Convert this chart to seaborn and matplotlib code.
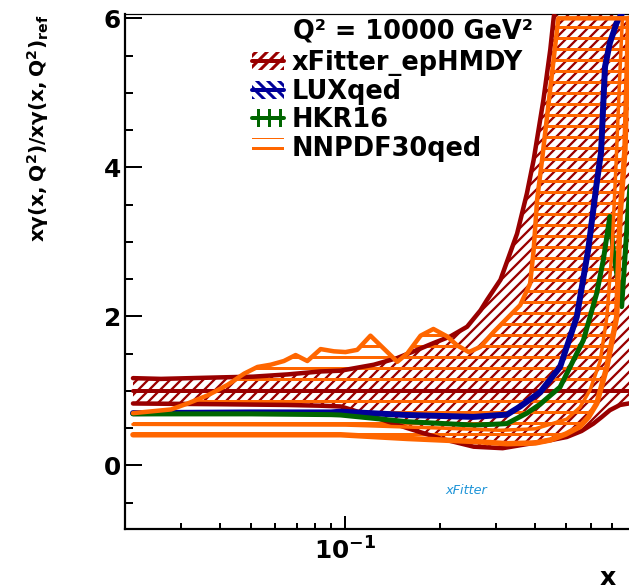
import numpy as np
import pandas as pd
import matplotlib
matplotlib.use("Agg")
import matplotlib.pyplot as plt
import seaborn as sns
from matplotlib.patches import Patch
from matplotlib.lines import Line2D
from matplotlib.legend_handler import HandlerTuple
from matplotlib.ticker import MultipleLocator, LogLocator, NullFormatter, FixedLocator, FixedFormatter

# ---------------- data (ratio to xFitter_epHMDY reference) ----------------
xf_up_x = [0.0212, 0.026, 0.040, 0.051, 0.0655, 0.0834, 0.0965, 0.123, 0.146, 0.169, 0.190,
           0.215, 0.243, 0.268, 0.281, 0.310, 0.350, 0.376, 0.395, 0.424, 0.446, 0.457, 0.48, 1.0]
xf_up_y = [1.17, 1.16, 1.18, 1.19, 1.22, 1.26, 1.27, 1.35, 1.44, 1.55, 1.64,
           1.73, 1.86, 2.08, 2.22, 2.49, 3.11, 3.65, 4.10, 4.90, 5.58, 6.00, 6.60, 9.0]
xf_lo_x = [0.0212, 0.040, 0.0655, 0.0834, 0.0965, 0.1038, 0.123, 0.157, 0.200, 0.255, 0.315,
           0.395, 0.450, 0.503, 0.560, 0.611, 0.650, 0.689, 0.742, 0.791, 0.85, 1.0]
xf_lo_y = [0.83, 0.82, 0.81, 0.80, 0.79, 0.75, 0.65, 0.50, 0.36, 0.25, 0.23,
           0.30, 0.34, 0.38, 0.46, 0.56, 0.65, 0.74, 0.81, 0.83, 0.85, 0.87]
xf_c_x = [0.0212, 1.0]
xf_c_y = [1.0, 1.0]

nn_up_x = [0.0212, 0.028, 0.0316, 0.0366, 0.0423, 0.0477, 0.0526, 0.0579, 0.0638, 0.0695, 0.0757,
           0.0834, 0.0919, 0.1, 0.109, 0.120, 0.146, 0.157, 0.173, 0.190, 0.210, 0.226, 0.246,
           0.268, 0.295, 0.325, 0.358, 0.385, 0.395, 0.405, 0.42, 0.473, 1.0]
nn_up_y = [0.70, 0.75, 0.83, 0.94, 1.08, 1.23, 1.32, 1.35, 1.40, 1.48, 1.40,
           1.56, 1.53, 1.52, 1.55, 1.74, 1.39, 1.50, 1.74, 1.83, 1.73, 1.61, 1.52,
           1.59, 1.79, 1.97, 2.15, 2.44, 2.89, 3.56, 4.10, 6.00, 6.00]
nn_lo_x = [0.0212, 0.05, 0.0965, 0.157, 0.255, 0.325, 0.40, 0.446, 0.50, 0.554, 0.59,
           0.626, 0.674, 0.724, 0.742, 0.769, 0.79, 1.0]
nn_lo_y = [0.41, 0.41, 0.41, 0.36, 0.32, 0.29, 0.30, 0.34, 0.42, 0.52, 0.65,
           0.83, 1.32, 1.99, 3.34, 4.23, 6.00, 6.00]
nn_c_x = [0.0212, 0.1, 0.2, 0.31, 0.40, 0.503, 0.554, 0.596, 0.642, 0.674, 0.70, 0.72, 0.74, 0.755]
nn_c_y = [0.55, 0.54, 0.50, 0.47, 0.49, 0.62, 0.78, 1.01, 1.40, 1.99, 2.90, 4.00, 5.20, 6.00]

lux_x = [0.0212, 0.05, 0.09, 0.0965, 0.157, 0.255, 0.31, 0.325, 0.358, 0.395, 0.414, 0.479,
         0.541, 0.588, 0.626, 0.646, 0.665, 0.689, 0.724, 0.76]
lux_y = [0.70, 0.71, 0.71, 0.72, 0.675, 0.65, 0.675, 0.68, 0.79, 0.92, 0.98, 1.32,
         1.99, 2.89, 3.79, 4.20, 5.35, 5.67, 5.94, 6.10]

hkr_x = [0.0212, 0.05, 0.09, 0.0965, 0.157, 0.255, 0.31, 0.325, 0.376, 0.414, 0.479, 0.568,
         0.626, 0.657, 0.689, 0.706, 0.751, 0.787, 0.80]
hkr_y = [0.69, 0.69, 0.68, 0.675, 0.585, 0.54, 0.555, 0.56, 0.70, 0.82, 1.05, 1.68,
         2.31, 2.76, 3.34, 2.89, 2.13, 3.43, 3.80]

labels = ["xFitter_epHMDY", "LUXqed", "HKR16", "NNPDF30qed"]
y_ticks = [0, 2, 4, 6]
y_ticklabels = ["0", "2", "4", "6"]
x_ticks = [0.1]
x_ticklabels = [r"$\mathbf{10^{-1}}$"]

# ---------------- styling ----------------
DR, BL, GR, OR = "#990000", "#000099", "#006600", "#ff6600"
DPI = 66
W, H = 629, 585
def pt(px):
    return px * 72.0 / DPI

sns.set_style("white")
plt.rcParams["font.family"] = ["DejaVu Sans"]
plt.rcParams["font.weight"] = "bold"
plt.rcParams["mathtext.fontset"] = "dejavusans"
plt.rcParams["hatch.linewidth"] = pt(3)
for k in ["text.color", "axes.labelcolor", "xtick.color", "ytick.color", "axes.edgecolor"]:
    plt.rcParams[k] = "black"

fig = plt.figure(figsize=(W / DPI, H / DPI), dpi=DPI)
fig.patch.set_facecolor("white")
ax_l, ax_r, ax_t, ax_b = 125, 660.9, 14, 529.3
ax = fig.add_axes([ax_l / W, 1 - ax_b / H, (ax_r - ax_l) / W, (ax_b - ax_t) / H])
ax.set_xscale("log")

def set_hlw(artist, px):
    if hasattr(artist, "set_hatch_linewidth"):
        artist.set_hatch_linewidth(pt(px))

# bands (hatched)
with plt.rc_context({"hatch.linewidth": pt(2.3)}):
    p_xf = ax.fill(xf_up_x + xf_lo_x[::-1], xf_up_y + xf_lo_y[::-1], facecolor="none",
                   edgecolor=DR, hatch="//", linewidth=0, zorder=1)[0]
set_hlw(p_xf, 2.3)
p_nn = ax.fill(nn_up_x + nn_lo_x[::-1], nn_up_y + nn_lo_y[::-1], facecolor="none",
               edgecolor=OR, hatch="-", linewidth=0, zorder=2)[0]
set_hlw(p_nn, 3.0)

def line(x, y, c, lw, z):
    sns.lineplot(x=x, y=y, ax=ax, color=c, linewidth=pt(lw), sort=False,
                 estimator=None, legend=False, zorder=z)

line(xf_up_x, xf_up_y, DR, 4.5, 3)
line(xf_lo_x, xf_lo_y, DR, 4.5, 3)
line(xf_c_x, xf_c_y, DR, 4.0, 3)
line(lux_x, lux_y, BL, 6.0, 4)
line(hkr_x, hkr_y, GR, 5.0, 4)
line(nn_up_x, nn_up_y, OR, 4.5, 5)
line(nn_lo_x, nn_lo_y, OR, 5.5, 5)
line(nn_c_x, nn_c_y, OR, 3.5, 5)

ax.set_xlim(0.02, 1.0)
ax.set_ylim(-0.859, 6.058)
ax.set_xlabel("")
ax.set_ylabel("")

# ticks
ax.yaxis.set_major_locator(FixedLocator(y_ticks))
ax.yaxis.set_major_formatter(FixedFormatter(y_ticklabels))
ax.yaxis.set_minor_locator(MultipleLocator(0.5))
ax.xaxis.set_major_locator(FixedLocator(x_ticks))
ax.xaxis.set_major_formatter(FixedFormatter(x_ticklabels))
ax.xaxis.set_minor_locator(LogLocator(base=10, subs=np.arange(2, 10)))
ax.xaxis.set_minor_formatter(NullFormatter())
ax.tick_params(axis="y", which="major", direction="in", length=pt(17), width=pt(2),
               labelsize=27, pad=pt(4), left=True, right=False, colors="black")
ax.tick_params(axis="y", which="minor", direction="in", length=pt(8), width=pt(2), left=True, right=False)
ax.tick_params(axis="x", which="major", direction="in", length=pt(13), width=pt(2),
               labelsize=27, pad=pt(8), bottom=True, top=False, colors="black")
ax.tick_params(axis="x", which="minor", direction="in", length=pt(6), width=pt(2), bottom=True, top=False)
for lab in ax.get_yticklabels() + ax.get_xticklabels():
    lab.set_fontweight("bold")

for s in ["left", "bottom"]:
    ax.spines[s].set_linewidth(pt(2.2))
    ax.spines[s].set_color("black")
ax.spines["top"].set_linewidth(pt(1.2))
ax.spines["top"].set_color("black")
ax.spines["right"].set_visible(False)

# legend
with plt.rc_context({"hatch.linewidth": pt(2.5)}):
    h_xf = Patch(facecolor="none", edgecolor=DR, hatch="//", linewidth=0)
    h_lux = Patch(facecolor="none", edgecolor=BL, hatch="\\\\", linewidth=0)
    h_hkr = Patch(facecolor="none", edgecolor=GR, hatch="|", linewidth=0)
    h_nn = Patch(facecolor="none", edgecolor=OR, hatch="-", linewidth=0)
for h in (h_xf, h_lux, h_hkr, h_nn):
    set_hlw(h, 2.5)
handles = [
    (h_xf, Line2D([], [], color=DR, lw=pt(4))),
    (h_lux, Line2D([], [], color=BL, lw=pt(4))),
    (h_hkr, Line2D([], [], color=GR, lw=pt(4))),
    h_nn,
]
leg = ax.legend(handles, labels, loc="upper left", bbox_to_anchor=(252 / W, 1 - 50 / H),
                bbox_transform=fig.transFigure, frameon=False,
                prop={"weight": "bold", "size": 28}, handlelength=1.26, handleheight=0.7,
                handletextpad=0.3, labelspacing=0.1, borderpad=0, borderaxespad=0,
                handler_map={tuple: HandlerTuple(ndivide=1)})
for t in leg.get_texts():
    t.set_color("black")

fig.text(293 / W, 1 - 31.7 / H, "Q² = 10000 GeV²", ha="left", va="center",
         fontsize=28, fontweight="bold", color="black")

# axis titles
fig.text(38 / W, 1 - 15 / H, r"$\mathbf{x\gamma(x,Q^{2})/x\gamma(x,Q^{2})_{ref}}$",
         rotation=90, ha="center", va="top", fontsize=22, color="black")
fig.text(608 / W, 1 - 585 / H, "x", ha="center", va="baseline", fontsize=27.5,
         fontweight="bold", color="black")

# xFitter logo text
fig.text(466 / W, 1 - 491 / H, "xFitter", ha="center", va="center", fontsize=14,
         style="italic", fontweight="normal", color="#1f95d8")

fig.savefig("out.png", dpi=DPI, facecolor="white")
